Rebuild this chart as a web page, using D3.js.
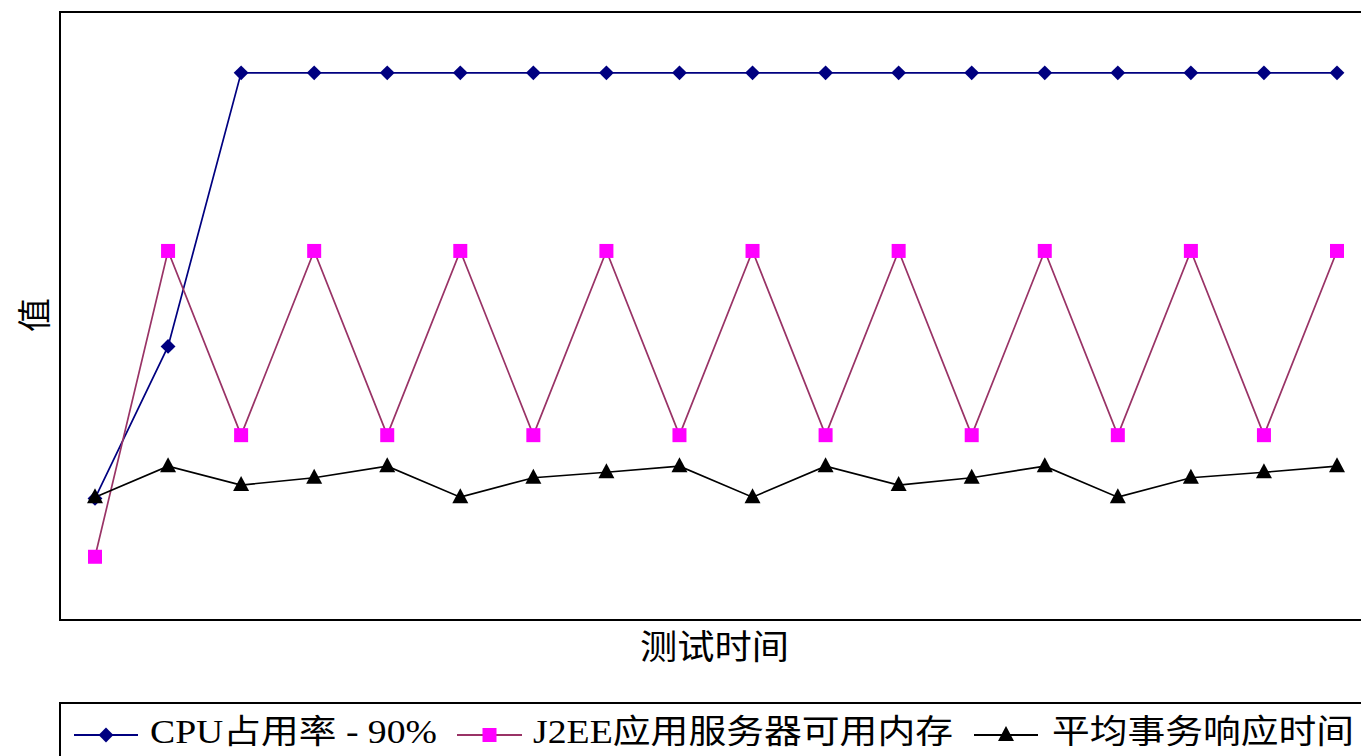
<!DOCTYPE html>
<html>
<head>
<meta charset="utf-8">
<script src="https://cdn.jsdelivr.net/npm/d3@7"></script>
<style>
  body { margin: 0; background: #fff; overflow: hidden; }
</style>
</head>
<body>
<div class="canvas"></div>
<script>
var width = 1361,
	height = 756;

// data (value axis 0..100, CPU plateau at 90%)
var points = d3.range(18);
var cpu = [20, 45, 90, 90, 90, 90, 90, 90, 90, 90, 90, 90, 90, 90, 90, 90, 90, 90];
var j2ee = [10.4, 60.7, 30.4, 60.7, 30.4, 60.7, 30.4, 60.7, 30.4, 60.7, 30.4, 60.7, 30.4, 60.7, 30.4, 60.7, 30.4, 60.7];
var resp = [20.2, 25.3, 22.2, 23.4, 25.3, 20.2, 23.4, 24.3, 25.3, 20.2, 25.3, 22.2, 23.4, 25.3, 20.2, 23.4, 24.3, 25.3];
var seriesNames = ["CPU占用率 - 90%", "J2EE应用服务器可用内存", "平均事务响应时间"];
var xTitle = "测试时间",
	yTitle = "值";

var font = "'Liberation Serif', 'Noto Sans CJK SC', serif";

var svg = d3.select(".canvas")
	.append("svg")
	.attr("width", width)
	.attr("height", height);

var plot = { left: 60, top: 12, right: 1400, bottom: 620 };

var x = d3.scaleLinear()
	.domain([0, points.length - 1])
	.range([95, 1337]);

var y = d3.scaleLinear()
	.domain([0, 100])
	.range([plot.bottom, plot.top]);

/* ---------- frame ---------- */
svg.append("rect")
	.attr("x", plot.left)
	.attr("y", plot.top)
	.attr("width", plot.right - plot.left)
	.attr("height", plot.bottom - plot.top)
	.attr("fill", "none")
	.attr("stroke", "#000")
	.attr("stroke-width", 2);

/* ---------- series ---------- */
var series = [
	{ name: seriesNames[0], values: cpu, line: "#000080", fill: "#000080", shape: "diamond" },
	{ name: seriesNames[1], values: j2ee, line: "#993366", fill: "#ff00ff", shape: "square" },
	{ name: seriesNames[2], values: resp, line: "#000000", fill: "#000000", shape: "triangle" }
];

function marker(g, shape, fill) {
	if (shape === "diamond") {
		g.append("path")
			.attr("d", d3.symbol(d3.symbolSquare, 110)())
			.attr("transform", "rotate(45)")
			.attr("fill", fill);
	} else if (shape === "square") {
		g.append("rect")
			.attr("x", -7).attr("y", -7)
			.attr("width", 14).attr("height", 14)
			.attr("fill", fill);
	} else {
		g.append("path")
			.attr("d", "M0,-9L8,6L-8,6Z")
			.attr("fill", fill);
	}
}

var line = d3.line()
	.x(function(d, i) { return x(i); })
	.y(function(d) { return y(d); });

series.forEach(function(s) {
	svg.append("path")
		.datum(s.values)
		.attr("d", line)
		.attr("fill", "none")
		.attr("stroke", s.line)
		.attr("stroke-width", 1.7);
});

series.forEach(function(s) {
	svg.append("g").selectAll("g")
		.data(s.values)
		.join("g")
		.attr("transform", function(d, i) { return "translate(" + x(i) + "," + y(d) + ")"; })
		.each(function() { marker(d3.select(this), s.shape, s.fill); });
});

/* ---------- axis titles ---------- */
svg.append("text")
	.attr("x", 640)
	.attr("y", 659)
	.attr("textLength", 149)
	.attr("lengthAdjust", "spacingAndGlyphs")
	.attr("font-family", font)
	.attr("font-size", 34)
	.attr("fill", "#000")
	.text(xTitle);

svg.append("text")
	.attr("transform", "translate(47, 315) rotate(-90)")
	.attr("text-anchor", "middle")
	.attr("font-family", font)
	.attr("font-size", 34)
	.attr("fill", "#000")
	.text(yTitle);

/* ---------- legend ---------- */
svg.append("rect")
	.attr("x", 60)
	.attr("y", 703)
	.attr("width", 1400)
	.attr("height", 100)
	.attr("fill", "none")
	.attr("stroke", "#000")
	.attr("stroke-width", 2);

var legendPos = [
	{ l0: 74, l1: 138, tx: 150, tw: 287 },
	{ l0: 457, l1: 522, tx: 533, tw: 420 },
	{ l0: 974, l1: 1038, tx: 1052, tw: 302 }
];

series.forEach(function(s, i) {
	var p = legendPos[i];
	var g = svg.append("g");
	g.append("line")
		.attr("x1", p.l0).attr("x2", p.l1)
		.attr("y1", 735).attr("y2", 735)
		.attr("stroke", s.line)
		.attr("stroke-width", 2);
	marker(g.append("g").attr("transform", "translate(" + ((p.l0 + p.l1) / 2) + ",735)"), s.shape, s.fill);
	g.append("text")
		.attr("x", p.tx)
		.attr("y", 743)
		.attr("textLength", p.tw)
		.attr("lengthAdjust", "spacingAndGlyphs")
		.attr("font-family", font)
		.attr("font-size", 33)
		.attr("fill", "#000")
		.text(s.name);
});
</script>
</body>
</html>
